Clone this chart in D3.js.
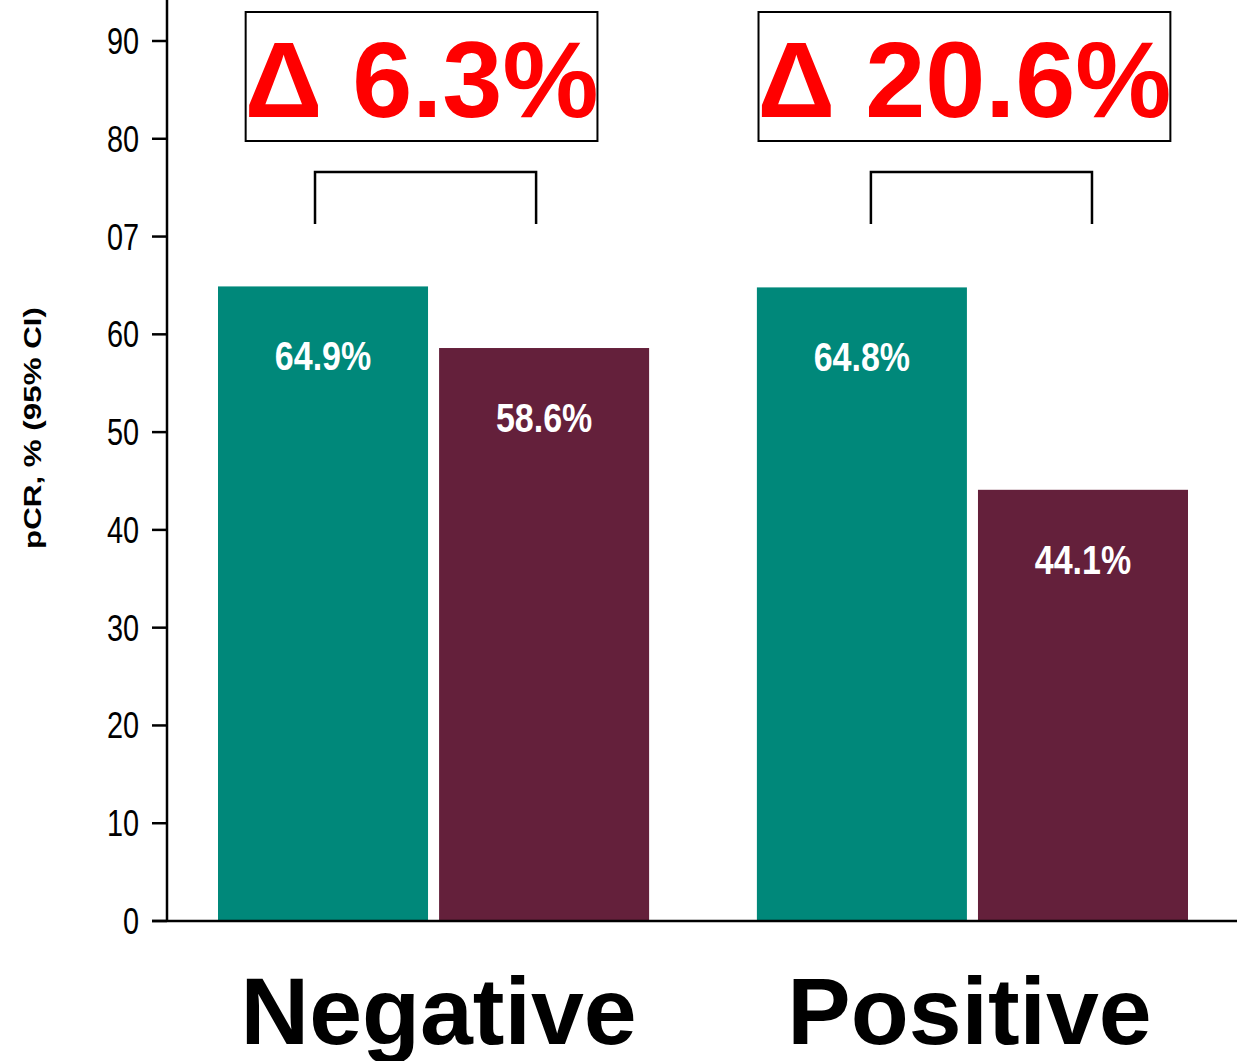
<!DOCTYPE html>
<html>
<head>
<meta charset="utf-8">
<script src="https://cdn.jsdelivr.net/npm/d3@7"></script>
<style>
  html, body { margin: 0; padding: 0; background: #fff; }
  svg { display: block; }
  text { font-family: "Liberation Sans", Arial, Helvetica, sans-serif; }
</style>
</head>
<body>
<svg id="chart" width="1237" height="1061"></svg>
<script>
// ---- data ----
const categories = ["Negative", "Positive"];
const series = ["Arm A", "Arm B"];
const armA = [64.9, 64.8];
const armB = [58.6, 44.1];
const barLabels = [["64.9%", "58.6%"], ["64.8%", "44.1%"]];
const deltaLabels = ["\u0394 6.3%", "\u0394 20.6%"];
const tickValues = [0, 10, 20, 30, 40, 50, 60, 70, 80, 90];
const tickLabels = ["0", "10", "20", "30", "40", "50", "60", "07", "80", "90"];
const yTitle = "pCR, % (95% CI)";
const colors = ["#00887A", "#64203B"];

// ---- layout ----
const W = 1237, H = 1061;
const svg = d3.select("#chart");
const axisX = 167;

const y = d3.scaleLinear().domain([0, 90]).range([921, 41]);
const x0 = d3.scaleBand().domain(categories).range([218, 1188]).paddingInner(0.2).paddingOuter(0);
const x1 = d3.scaleBand().domain(series).range([0, x0.bandwidth()]).paddingInner(0.05).paddingOuter(0);

const rows = categories.map((c, i) => ({ cat: c, vals: [armA[i], armB[i]], labels: barLabels[i], delta: deltaLabels[i] }));

// bars
const groups = svg.selectAll("g.grp").data(rows).enter().append("g")
  .attr("class", "grp")
  .attr("transform", d => `translate(${x0(d.cat)},0)`);

const cells = d => d.vals.map((v, j) => ({ v, s: series[j], j, label: d.labels[j] }));

groups.selectAll("rect").data(cells)
  .enter().append("rect")
  .attr("x", d => x1(d.s))
  .attr("width", x1.bandwidth())
  .attr("y", d => y(d.v))
  .attr("height", d => y(0) - y(d.v))
  .attr("fill", d => colors[d.j]);

groups.selectAll("text.bl").data(cells)
  .enter().append("text")
  .attr("class", "bl")
  .attr("transform", d => `translate(${x1(d.s) + x1.bandwidth() / 2},${y(d.v) + 84}) scale(0.85,1)`)
  .attr("text-anchor", "middle")
  .attr("font-size", 40)
  .attr("font-weight", "bold")
  .attr("fill", "#fff")
  .text(d => d.label);

// y axis line + ticks
svg.append("line")
  .attr("x1", axisX).attr("x2", axisX)
  .attr("y1", y(0)).attr("y2", y(94.2))
  .attr("stroke", "#000").attr("stroke-width", 2.5);

svg.append("line")
  .attr("x1", axisX - 15).attr("x2", W)
  .attr("y1", y(0)).attr("y2", y(0))
  .attr("stroke", "#000").attr("stroke-width", 2.5);

const ticks = svg.selectAll("g.tick").data(tickValues).enter().append("g").attr("class", "tick");
ticks.append("line")
  .attr("x1", axisX - 15).attr("x2", axisX)
  .attr("y1", d => y(d)).attr("y2", d => y(d))
  .attr("stroke", "#000").attr("stroke-width", 2.5);
ticks.append("text")
  .attr("transform", d => `translate(${axisX - 28},${y(d) + 13}) scale(0.78,1)`)
  .attr("text-anchor", "end")
  .attr("font-size", 37)
  .attr("fill", "#000")
  .text((d, i) => tickLabels[i]);

// y title
svg.append("text")
  .attr("transform", `translate(41,${(y(0) + y(90)) / 2 - 53}) rotate(-90)`)
  .attr("text-anchor", "middle")
  .attr("font-size", 24)
  .attr("font-weight", "bold")
  .attr("textLength", 242)
  .attr("lengthAdjust", "spacingAndGlyphs")
  .text(yTitle);

// category labels
const catShift = [5, -3];
svg.selectAll("text.cat").data(categories).enter().append("text")
  .attr("class", "cat")
  .attr("x", (d, i) => x0(d) + x0.bandwidth() / 2 + catShift[i])
  .attr("y", 1044)
  .attr("text-anchor", "middle")
  .attr("font-size", 95)
  .attr("font-weight", "bold")
  .attr("fill", "#000")
  .text(d => d);

// brackets
const bracketShift = [-8, 9];
rows.forEach((r, i) => {
  const xa = x0(r.cat) + x1(series[0]) + x1.bandwidth() / 2 + bracketShift[i];
  const xb = x0(r.cat) + x1(series[1]) + x1.bandwidth() / 2 + bracketShift[i];
  svg.append("path")
    .attr("d", `M${xa},224 V172 H${xb} V224`)
    .attr("fill", "none").attr("stroke", "#000").attr("stroke-width", 2.5);
});

// delta boxes
const deltaShift = [-12, -8];
rows.forEach((r, i) => {
  const cx = x0(r.cat) + x0.bandwidth() / 2 + deltaShift[i];
  const g = svg.append("g").attr("class", "delta");
  const box = g.append("rect");
  const t = g.append("text")
    .attr("x", cx).attr("y", 117)
    .attr("text-anchor", "middle")
    .attr("font-size", 108)
    .attr("font-weight", "bold")
    .attr("fill", "#FF0000")
    .text(r.delta);
  const bb = t.node().getBBox();
  box.attr("x", bb.x + 1).attr("y", 12)
    .attr("width", bb.width - 2).attr("height", 129)
    .attr("fill", "#fff").attr("stroke", "#000").attr("stroke-width", 2);
});
</script>
</body>
</html>
